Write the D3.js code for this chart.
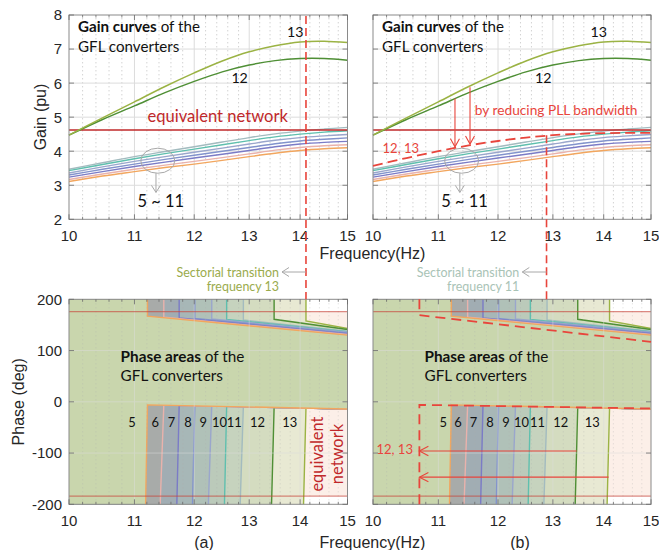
<!DOCTYPE html>
<html>
<head>
<meta charset="utf-8">
<script src="https://cdn.jsdelivr.net/npm/d3@7/dist/d3.min.js"></script>
<style>
html,body{margin:0;padding:0;background:#fff;}
svg{display:block;}
</style>
</head>
<body>
<svg id="chart" width="659" height="550"></svg>
<script>
// ================= DATA =================
const freqGrid = [10, 10.5, 11, 11.5, 12, 12.5, 13, 13.5, 14, 14.5, 15];
const converterIds = [5, 6, 7, 8, 9, 10, 11, 12, 13];
const gain5  = [3.11, 3.27, 3.40, 3.52, 3.62, 3.73, 3.84, 3.94, 4.02, 4.07, 4.10];
const gain6  = [3.17, 3.33, 3.47, 3.59, 3.70, 3.81, 3.92, 4.03, 4.11, 4.16, 4.19];
const gain7  = [3.24, 3.40, 3.55, 3.68, 3.80, 3.91, 4.02, 4.13, 4.21, 4.26, 4.29];
const gain8  = [3.30, 3.47, 3.62, 3.76, 3.88, 4.00, 4.11, 4.22, 4.30, 4.35, 4.39];
const gain9  = [3.36, 3.54, 3.70, 3.84, 3.97, 4.09, 4.21, 4.32, 4.40, 4.45, 4.49];
const gain10 = [3.43, 3.61, 3.78, 3.93, 4.06, 4.19, 4.31, 4.42, 4.50, 4.56, 4.60];
const gain11 = [3.47, 3.66, 3.84, 3.99, 4.13, 4.27, 4.40, 4.51, 4.59, 4.65, 4.70];
const gain12 = [4.47, 4.93, 5.33, 5.72, 6.05, 6.33, 6.53, 6.66, 6.72, 6.72, 6.67];
const gain13 = [4.47, 4.98, 5.45, 5.90, 6.30, 6.65, 6.92, 7.10, 7.21, 7.23, 7.19];
const gainReduced1213 = [3.57, 3.80, 4.00, 4.17, 4.30, 4.40, 4.47, 4.51, 4.53, 4.54, 4.54];
const gainEquivalent = 4.62;

// phase areas of converters 5..13
const areaTopFreq    = [11.21, 11.48, 11.74, 12.01, 12.31, 12.58, 12.89, 13.48, 14.12];
const areaBottomFreq = [11.18, 11.42, 11.70, 11.97, 12.25, 12.54, 12.83, 13.43, 14.07];
const areaUpperStart = [167, 165, 163.5, 162.5, 161.5, 160.5, 159.5, 161, 158];
const areaUpperEnd   = [130, 131.5, 133, 134.5, 136, 137, 138, 141, 143];
const areaLowerStart = [-6, -6.5, -7, -7.5, -8, -8.5, -9, -10.5, -12];
const areaLowerEnd   = [-14, -14, -14, -14, -14, -14, -14, -14, -14];
const eqPhaseTop = 176, eqPhaseBottom = -184;

// reduced PLL bandwidth boundary (12, 13) in panel (b)
const reducedUpperFreq  = [10.7, 10.7, 15];
const reducedUpperPhase = [200, 169, 117];
const reducedLowerFreq  = [10.7, 10.7, 15];
const reducedLowerPhase = [-200, -6, -13];
const shiftArrowFrom  = [13.46, 14.1];
const shiftArrowPhase = [-96, -147];
const shiftArrowTo = 10.7;
const gainArrowFreq = [11.27, 11.52];
const gainArrowFrom = [5.55, 5.88];
const gainArrowTo   = [4.13, 4.21];

const transitionFreqA = 14.12, transitionFreqB = 12.88;

// tick labels
const xTickVals = [10, 11, 12, 13, 14, 15];
const gainTickVals = [2, 3, 4, 5, 6, 7, 8];
const phaseTickVals = [-200, -100, 0, 100, 200];
const areaLabelFreqA = [10.96, 11.34, 11.61, 11.89, 12.16, 12.45, 12.72, 13.16, 13.79];
const areaLabelFreqB = [11.08, 11.32, 11.58, 11.86, 12.14, 12.42, 12.71, 13.15, 13.77];

// ================= STYLE =================
const lineColor = ['#f2a65e', '#e9b2ac', '#7b7bc6', '#8293cc', '#9aa6cc', '#5fbfae', '#a3bbbf', '#4f8f35', '#9bb344'];
const areaFill  = ['#c9d6ad', '#a8aba9', '#a1adb3', '#a7b7b7', '#b0c1b8', '#bbcaba', '#c6d3be', '#d4dcc0', '#e8e9d3'];
const TICK_FONT = '"Liberation Sans", Arial, Helvetica, sans-serif';
const NOTE_FONT = 'Lato, "Open Sans", sans-serif';
const RED = '#e8453c', DARKRED = '#c0282a';

const xMinorVals = d3.range(102, 150, 2).map(v => v / 10).filter(v => v % 1 !== 0);

const svg = d3.select('#chart');
svg.append('rect').attr('width', 659).attr('height', 550).attr('fill', '#fff');

const xA = d3.scaleLog().domain([10, 15]).range([69, 347.5]);
const xB = d3.scaleLog().domain([10, 15]).range([373, 651]);
const yG = d3.scaleLinear().domain([2, 8]).range([219.3, 15]);
const yP = d3.scaleLinear().domain([-200, 200]).range([504.3, 299.3]);

function fit(sel, target) {
  const w = sel.node().getComputedTextLength();
  const fs = parseFloat(sel.attr('font-size'));
  const nfs = fs * target / w;
  sel.attr('font-size', nfs);
  return nfs;
}

function drawGrid(g, x, y, yTicks, opacity) {
  const [yb, yt] = y.range(), [xl, xr] = x.range();
  const gg = g.append('g').attr('opacity', opacity);
  gg.selectAll('.mn').data(xMinorVals).join('line').attr('class', 'mn')
    .attr('x1', d => x(d)).attr('x2', d => x(d)).attr('y1', yb).attr('y2', yt)
    .attr('stroke', '#b0b0b0').attr('stroke-width', 0.8).attr('stroke-dasharray', '1,3');
  gg.selectAll('.mj').data(xTickVals.slice(1, -1)).join('line').attr('class', 'mj')
    .attr('x1', d => x(d)).attr('x2', d => x(d)).attr('y1', yb).attr('y2', yt)
    .attr('stroke', '#dcdcdc').attr('stroke-width', 1);
  gg.selectAll('.hy').data(yTicks.slice(1, -1)).join('line').attr('class', 'hy')
    .attr('x1', xl).attr('x2', xr).attr('y1', d => y(d)).attr('y2', d => y(d))
    .attr('stroke', '#dcdcdc').attr('stroke-width', 1);
}

function drawFrame(g, x, y, yTicks, showY) {
  const [yb, yt] = y.range(), [xl, xr] = x.range();
  const f = g.append('g');
  f.append('rect').attr('x', xl).attr('y', yt).attr('width', xr - xl).attr('height', yb - yt)
    .attr('fill', 'none').attr('stroke', '#8a8a8a').attr('stroke-width', 1);
  const tk = (data, len, cls) => {
    f.selectAll('.b' + cls).data(data).join('line').attr('class', 'b' + cls)
      .attr('x1', d => x(d)).attr('x2', d => x(d)).attr('y1', yb).attr('y2', yb - len)
      .attr('stroke', '#6a6a6a').attr('stroke-width', 0.8);
    f.selectAll('.t' + cls).data(data).join('line').attr('class', 't' + cls)
      .attr('x1', d => x(d)).attr('x2', d => x(d)).attr('y1', yt).attr('y2', yt + len)
      .attr('stroke', '#6a6a6a').attr('stroke-width', 0.8);
  };
  tk(xTickVals, 5, 'M');
  tk(xMinorVals, 2.5, 'm');
  f.selectAll('.yl').data(yTicks).join('line').attr('class', 'yl')
    .attr('x1', xl).attr('x2', xl + 5).attr('y1', d => y(d)).attr('y2', d => y(d))
    .attr('stroke', '#6a6a6a').attr('stroke-width', 0.8);
  f.selectAll('.yr').data(yTicks).join('line').attr('class', 'yr')
    .attr('x1', xr).attr('x2', xr - 5).attr('y1', d => y(d)).attr('y2', d => y(d))
    .attr('stroke', '#6a6a6a').attr('stroke-width', 0.8);
  f.selectAll('.xt').data(xTickVals).join('text').attr('class', 'xt')
    .attr('x', d => x(d)).attr('y', yb + 21.5).attr('text-anchor', 'middle')
    .attr('font-family', TICK_FONT).attr('font-size', 15).attr('fill', '#262626').text(d => d);
  if (showY) {
    f.selectAll('.ytl').data(yTicks).join('text').attr('class', 'ytl')
      .attr('x', xl - 7).attr('y', d => y(d)).attr('dy', '0.36em').attr('text-anchor', 'end')
      .attr('font-family', TICK_FONT).attr('font-size', 15).attr('fill', '#262626').text(d => d);
  }
}

function chevron(g, tx, ty, angle, len, half, color, w) {
  const bx = tx - len * Math.cos(angle), by = ty - len * Math.sin(angle);
  const px = -Math.sin(angle) * half, py = Math.cos(angle) * half;
  g.append('path').attr('d', `M${bx + px},${by + py}L${tx},${ty}L${bx - px},${by - py}`)
    .attr('fill', 'none').attr('stroke', color).attr('stroke-width', w);
}

const gainSeries = [gain5, gain6, gain7, gain8, gain9, gain10, gain11];

function gainPanel(x) {
  const g = svg.append('g');
  drawGrid(g, x, yG, gainTickVals, 1);
  const line = d3.line().x((d, i) => x(freqGrid[i])).y(d => yG(d)).curve(d3.curveCatmullRom);
  for (let i = gainSeries.length - 1; i >= 0; i--) {
    g.append('path').attr('d', line(gainSeries[i])).attr('fill', 'none')
      .attr('stroke', lineColor[i]).attr('stroke-width', 1.4);
  }
  g.append('line').attr('x1', x(10)).attr('x2', x(15)).attr('y1', yG(gainEquivalent)).attr('y2', yG(gainEquivalent))
    .attr('stroke', DARKRED).attr('stroke-width', 1.5);
  g.append('path').attr('d', line(gain12)).attr('fill', 'none').attr('stroke', lineColor[7]).attr('stroke-width', 1.5);
  g.append('path').attr('d', line(gain13)).attr('fill', 'none').attr('stroke', lineColor[8]).attr('stroke-width', 1.5);
  drawFrame(g, x, yG, gainTickVals, x === xA);

  // title text
  const t1 = g.append('text').attr('x', x(10) + 9).attr('y', 32).attr('font-family', NOTE_FONT)
    .attr('font-size', 15).attr('fill', '#111');
  t1.append('tspan').attr('font-weight', 700).text('Gain curves');
  t1.append('tspan').text(' of the');
  const fs = fit(t1, 122);
  g.append('text').attr('x', x(10) + 9).attr('y', 52).attr('font-family', NOTE_FONT)
    .attr('font-size', fs).attr('fill', '#111').text('GFL converters');
  // curve labels
  const l13 = g.append('text').attr('x', x(13.9)).attr('y', yG(7.35)).attr('text-anchor', 'middle')
    .attr('font-family', NOTE_FONT).attr('font-size', 15).attr('fill', '#111').text('13');
  const nfs = fit(l13, 16.5);
  g.append('text').attr('x', x(12.82)).attr('y', yG(6.0)).attr('text-anchor', 'middle')
    .attr('font-family', NOTE_FONT).attr('font-size', nfs).attr('fill', '#111').text('12');
  // ellipse + arrow
  g.append('ellipse').attr('cx', x(11.38)).attr('cy', yG(3.72)).attr('rx', 17).attr('ry', 12.5)
    .attr('fill', 'none').attr('stroke', '#a8a8a8').attr('stroke-width', 1);
  g.append('line').attr('x1', x(11.35)).attr('x2', x(11.35)).attr('y1', yG(3.72) + 12.5).attr('y2', yG(2.79))
    .attr('stroke', '#a8a8a8').attr('stroke-width', 1);
  chevron(g, x(11.35), yG(2.79), Math.PI / 2, 7, 4.5, '#a8a8a8', 1);
  const r = g.append('text').attr('x', x(11.43)).attr('y', yG(2.35)).attr('text-anchor', 'middle')
    .attr('font-family', NOTE_FONT).attr('font-size', 16).attr('fill', '#111').text('5 ~ 11');
  fit(r, 46.6);
  return g;
}

function phasePanel(x) {
  const g = svg.append('g');
  g.append('rect').attr('x', x(10)).attr('width', x(15) - x(10))
    .attr('y', yP(eqPhaseTop)).attr('height', yP(eqPhaseBottom) - yP(eqPhaseTop)).attr('fill', '#fcefe8');
  const pl = d3.line().x(d => x(d[0])).y(d => yP(d[1]));
  for (let i = converterIds.length - 1; i >= 0; i--) {
    const xt = areaTopFreq[i], xb = areaBottomFreq[i];
    const us = areaUpperStart[i], ue = areaUpperEnd[i], ls = areaLowerStart[i], le = areaLowerEnd[i];
    const poly = [[10, 200], [xt, 200], [xt, us], [15, ue], [15, le], [xt, ls], [xb, -200], [10, -200]];
    g.append('path').attr('d', pl(poly) + 'Z').attr('fill', areaFill[i]);
    g.append('path').attr('d', pl([[xt, 200], [xt, us], [15, ue]])).attr('fill', 'none')
      .attr('stroke', lineColor[i]).attr('stroke-width', 1.4);
    g.append('path').attr('d', pl([[15, le], [xt, ls], [xb, -200]])).attr('fill', 'none')
      .attr('stroke', lineColor[i]).attr('stroke-width', 1.4);
  }
  drawGrid(g, x, yP, phaseTickVals, 0.5);
  [eqPhaseTop, eqPhaseBottom].forEach(p => {
    g.append('line').attr('x1', x(10)).attr('x2', x(15)).attr('y1', yP(p)).attr('y2', yP(p))
      .attr('stroke', '#c8463c').attr('stroke-width', 1.3).attr('opacity', 0.62);
  });
  drawFrame(g, x, yP, phaseTickVals, x === xA);
  const t1 = g.append('text').attr('x', x(10.78)).attr('y', yP(77)).attr('font-family', NOTE_FONT)
    .attr('font-size', 15).attr('fill', '#111');
  t1.append('tspan').attr('font-weight', 700).text('Phase areas');
  t1.append('tspan').text(' of the');
  const fs = fit(t1, 124);
  g.append('text').attr('x', x(10.78)).attr('y', yP(40)).attr('font-family', NOTE_FONT)
    .attr('font-size', fs).attr('fill', '#111').text('GFL converters');
  return g;
}

// ---- panels ----
const gA = gainPanel(xA);
const gB = gainPanel(xB);
const pA = phasePanel(xA);
const pB = phasePanel(xB);

// area number labels
function areaLabels(g, x, freqs) {
  const probe = g.append('text').attr('font-family', NOTE_FONT).attr('font-size', 15).text('10');
  const w = probe.node().getComputedTextLength(); probe.remove();
  const fs = 15 * 15 / w;
  g.selectAll('.al').data(converterIds).join('text').attr('class', 'al')
    .attr('x', (d, i) => x(freqs[i])).attr('y', yP(-49)).attr('text-anchor', 'middle')
    .attr('font-family', NOTE_FONT).attr('font-size', fs).attr('fill', '#111').text(d => d);
}
areaLabels(pA, xA, areaLabelFreqA);
areaLabels(pB, xB, areaLabelFreqB);

// equivalent network labels (a)
const eqTop = gA.append('text').attr('x', xA(11.21)).attr('y', yG(4.85)).attr('font-family', NOTE_FONT)
  .attr('font-size', 17).attr('fill', DARKRED).text('equivalent network');
fit(eqTop, 140.6);
const eqR1 = pA.append('text').attr('transform', `translate(${xA(14.47)},${yP(-102)}) rotate(-90)`)
  .attr('text-anchor', 'middle').attr('font-family', NOTE_FONT).attr('font-size', 16).attr('fill', DARKRED).text('equivalent');
const efs = fit(eqR1, 75);
pA.append('text').attr('transform', `translate(${xA(14.9)},${yP(-102)}) rotate(-90)`)
  .attr('text-anchor', 'middle').attr('font-family', NOTE_FONT).attr('font-size', efs).attr('fill', DARKRED).text('network');

// ---- panel (b) extras: gain ----
const redLine = d3.line().x((d, i) => xB(freqGrid[i])).y(d => yG(d)).curve(d3.curveCatmullRom);
gB.append('path').attr('d', redLine(gainReduced1213)).attr('fill', 'none').attr('stroke', RED)
  .attr('stroke-width', 1.8).attr('stroke-dasharray', '10,5');
gainArrowFreq.forEach((f, i) => {
  gB.append('line').attr('x1', xB(f)).attr('x2', xB(f)).attr('y1', yG(gainArrowFrom[i])).attr('y2', yG(gainArrowTo[i]))
    .attr('stroke', RED).attr('stroke-width', 1.1);
  chevron(gB, xB(f), yG(gainArrowTo[i]), Math.PI / 2, 8, 4.5, RED, 1.1);
});
const pll = gB.append('text').attr('x', xB(11.6)).attr('y', yG(5.06)).attr('font-family', NOTE_FONT)
  .attr('font-size', 15).attr('fill', RED).text('by reducing PLL bandwidth');
fit(pll, 163);
const l1213 = gB.append('text').attr('x', xB(10.14)).attr('y', yG(3.94)).attr('font-family', NOTE_FONT)
  .attr('font-size', 15).attr('fill', RED).text('12, 13');
const rfs = fit(l1213, 36.6);

// ---- panel (b) extras: phase ----
const dl = d3.line().x(d => xB(d[0])).y(d => yP(d[1]));
pB.append('path').attr('d', dl(reducedUpperFreq.map((f, i) => [f, reducedUpperPhase[i]])))
  .attr('fill', 'none').attr('stroke', RED).attr('stroke-width', 1.8).attr('stroke-dasharray', '10,6');
pB.append('path').attr('d', dl(reducedLowerFreq.map((f, i) => [f, reducedLowerPhase[i]])))
  .attr('fill', 'none').attr('stroke', RED).attr('stroke-width', 1.8).attr('stroke-dasharray', '10,6');
shiftArrowFrom.forEach((f, i) => {
  const y = yP(shiftArrowPhase[i]);
  pB.append('line').attr('x1', xB(f)).attr('x2', xB(shiftArrowTo)).attr('y1', y).attr('y2', y)
    .attr('stroke', RED).attr('stroke-width', 1.1);
  chevron(pB, xB(shiftArrowTo), y, Math.PI, 9, 4.7, RED, 1.1);
});
pB.append('text').attr('x', xB(10.05)).attr('y', yP(-102)).attr('font-family', NOTE_FONT)
  .attr('font-size', rfs).attr('fill', RED).text('12, 13');

// ---- transition dashed lines ----
svg.append('line').attr('x1', xA(transitionFreqA)).attr('x2', xA(transitionFreqA))
  .attr('y1', yG(8) + 1).attr('y2', yP(200)).attr('stroke', RED).attr('stroke-width', 1.6).attr('stroke-dasharray', '8,4');
svg.append('line').attr('x1', xB(transitionFreqB)).attr('x2', xB(transitionFreqB))
  .attr('y1', yG(4.47)).attr('y2', yP(200)).attr('stroke', RED).attr('stroke-width', 1.6).attr('stroke-dasharray', '8,4');

// sectorial transition notes
function sectorNote(xRight, xArrowEnd, color, label) {
  const t = svg.append('text').attr('x', xRight).attr('y', 277).attr('text-anchor', 'end')
    .attr('font-family', NOTE_FONT).attr('font-size', 13).attr('fill', color).text('Sectorial transition');
  const fs = fit(t, 102.7);
  svg.append('text').attr('x', xRight).attr('y', 291).attr('text-anchor', 'end')
    .attr('font-family', NOTE_FONT).attr('font-size', fs).attr('fill', color).text(label);
  svg.append('line').attr('x1', xRight + 3).attr('x2', xArrowEnd).attr('y1', 272).attr('y2', 272)
    .attr('stroke', '#a8a8a8').attr('stroke-width', 1);
  chevron(svg, xRight + 3, 272, Math.PI, 7, 4.5, '#a8a8a8', 1);
}
sectorNote(279, xA(transitionFreqA), '#9aab4c', 'frequency 13');
sectorNote(519.3, xB(transitionFreqB), '#a9c3b6', 'frequency 11');

// ---- axis labels ----
const LAB = {fam: TICK_FONT, size: 16, fill: '#262626'};
svg.append('text').attr('transform', 'translate(46,117) rotate(-90)').attr('text-anchor', 'middle')
  .attr('font-family', LAB.fam).attr('font-size', LAB.size).attr('fill', LAB.fill).text('Gain (pu)');
svg.append('text').attr('transform', 'translate(24,401.8) rotate(-90)').attr('text-anchor', 'middle')
  .attr('font-family', LAB.fam).attr('font-size', LAB.size).attr('fill', LAB.fill).text('Phase (deg)');
svg.append('text').attr('x', 372.5).attr('y', 259).attr('text-anchor', 'middle')
  .attr('font-family', LAB.fam).attr('font-size', LAB.size).attr('fill', LAB.fill).text('Frequency(Hz)');
svg.append('text').attr('x', 372.5).attr('y', 547.5).attr('text-anchor', 'middle')
  .attr('font-family', LAB.fam).attr('font-size', LAB.size).attr('fill', LAB.fill).text('Frequency(Hz)');
svg.append('text').attr('x', 204).attr('y', 547.5).attr('text-anchor', 'middle')
  .attr('font-family', LAB.fam).attr('font-size', LAB.size).attr('fill', LAB.fill).text('(a)');
svg.append('text').attr('x', 520).attr('y', 547.5).attr('text-anchor', 'middle')
  .attr('font-family', LAB.fam).attr('font-size', LAB.size).attr('fill', LAB.fill).text('(b)');
</script>
</body>
</html>
